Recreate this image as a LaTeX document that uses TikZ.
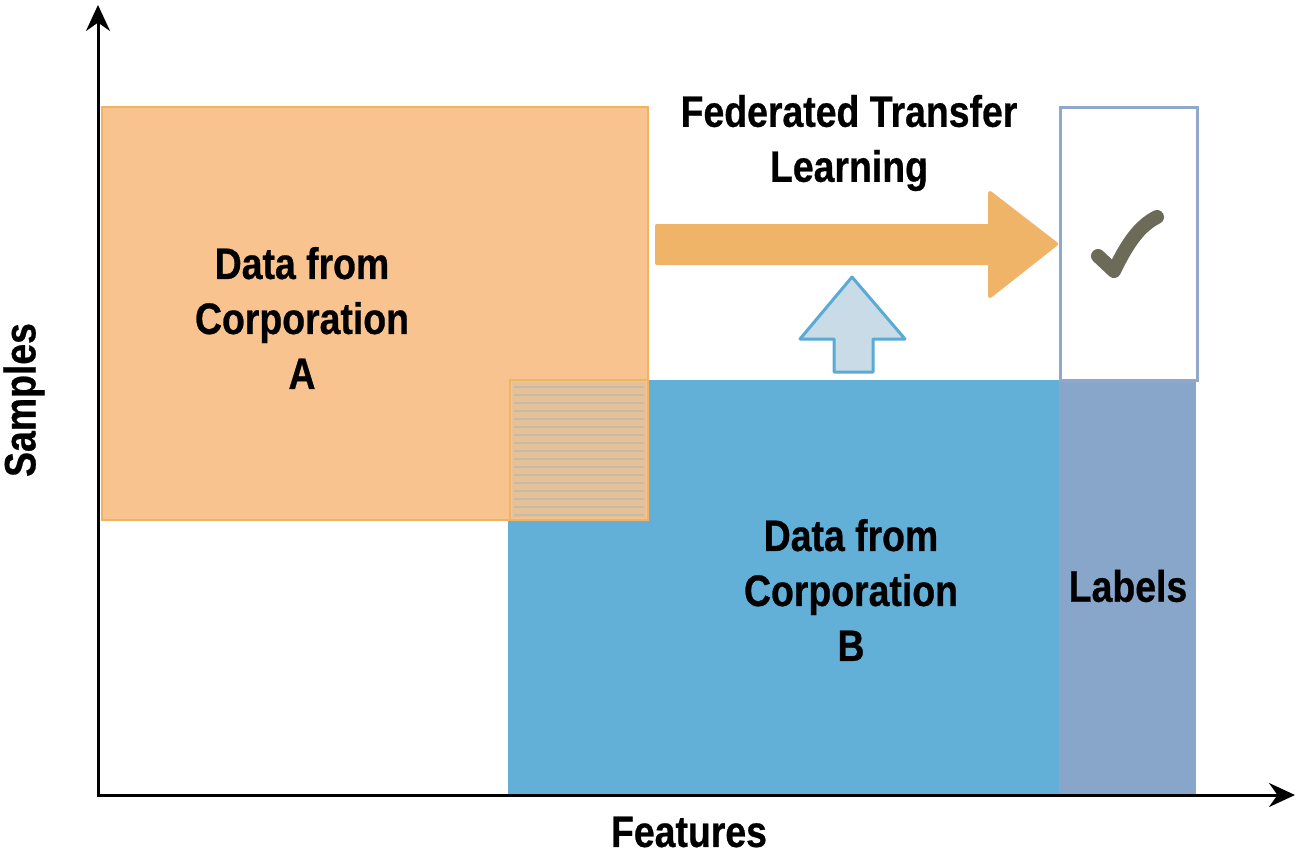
\documentclass[tikz,border=0pt]{standalone}
\usepackage{fontspec}
\newfontfamily\labfont[FakeStretch=0.85,FakeBold=0.6]{Liberation Sans}
\usetikzlibrary{arrows.meta}
\definecolor{orA}{HTML}{F8C38E}
\definecolor{orEdge}{HTML}{F0B263}
\definecolor{blB}{HTML}{62AFD7}
\definecolor{lbl}{HTML}{88A5CA}
\definecolor{lblEdge}{HTML}{8FA8CC}
\definecolor{orArrow}{HTML}{F0B468}
\definecolor{blArrowFill}{HTML}{C9DBE6}
\definecolor{blArrowEdge}{HTML}{5AAAD6}
\definecolor{chk}{HTML}{6B6B58}
\tikzset{
  txt/.style={font=\labfont\bfseries\fontsize{44}{55}\selectfont, align=center, inner sep=0pt, text=black},
  axis/.style={line width=3pt, -{Stealth[length=26pt,width=24pt]}},
  region/.style={rectangle, inner sep=0pt, anchor=north west},
}
\begin{document}
\begin{tikzpicture}[x=1pt,y=-1pt]
\useasboundingbox (0,0) rectangle (1304,859);
\fill[white] (0,0) rectangle (1304,859);
% Corporation B data
\node[region, fill=blB, minimum width=552pt, minimum height=415pt] (B) at (508,380) {};
% Labels column
\node[region, fill=lbl, minimum width=137pt, minimum height=415pt] (L) at (1059,380) {};
% Corporation A data
\node[region, fill=orA, draw=orEdge, line width=2pt, minimum width=546pt, minimum height=413pt] (A) at (101,106) {};
% overlap
\node[region, fill=orA!88!blB, minimum width=134pt, minimum height=136pt] (O) at (512,382) {};
\foreach \yy in {387,395,...,515} {\draw[orA!65!blB, line width=1.6pt] (514,\yy) -- (644,\yy);}
\draw[orEdge, line width=2.5pt] (510,380) rectangle (648,520);
% empty label box
\node[region, draw=lblEdge, line width=2.5pt, minimum width=137pt, minimum height=273pt] (E) at (1059,106) {};
% axes
\coordinate (origin) at (98,795);
\coordinate (ytop) at (98,5);
\coordinate (xend) at (1295,795);
\draw[axis] (origin) -- (ytop);
\draw[axis] ([xshift=-1.5pt]origin) -- (xend);
% orange arrow
\draw[fill=orArrow, draw=orArrow, line width=4pt, line join=round]
  (657,226) -- (990,226) -- (990,193) -- (1056,244) -- (990,296) -- (990,263) -- (657,263) -- cycle;
% blue arrow
\draw[fill=blArrowFill, draw=blArrowEdge, line width=3pt, line join=round]
  (852,277) -- (905,339) -- (873,339) -- (873,372) -- (834,372) -- (834,339) -- (800,339) -- cycle;
% check mark
\draw[chk, line width=14pt, line cap=round, line join=round]
  (1098,256) -- (1114,271) .. controls (1127,244) and (1139,226) .. (1157,217);
% texts
\node[txt] (tA) at (302,318) {Data from\\Corporation\\A};
\node[txt] (tB) at (851,590) {Data from\\Corporation\\B};
\node[txt] (tF) at (849,143) {Federated Transfer\\Learning};
\node[txt] (tL) at (1128,586) {Labels};
\node[txt] (tX) at (689,832) {Features};
\node[txt, rotate=90] (tY) at (24,400) {Samples};
\end{tikzpicture}
\end{document}
